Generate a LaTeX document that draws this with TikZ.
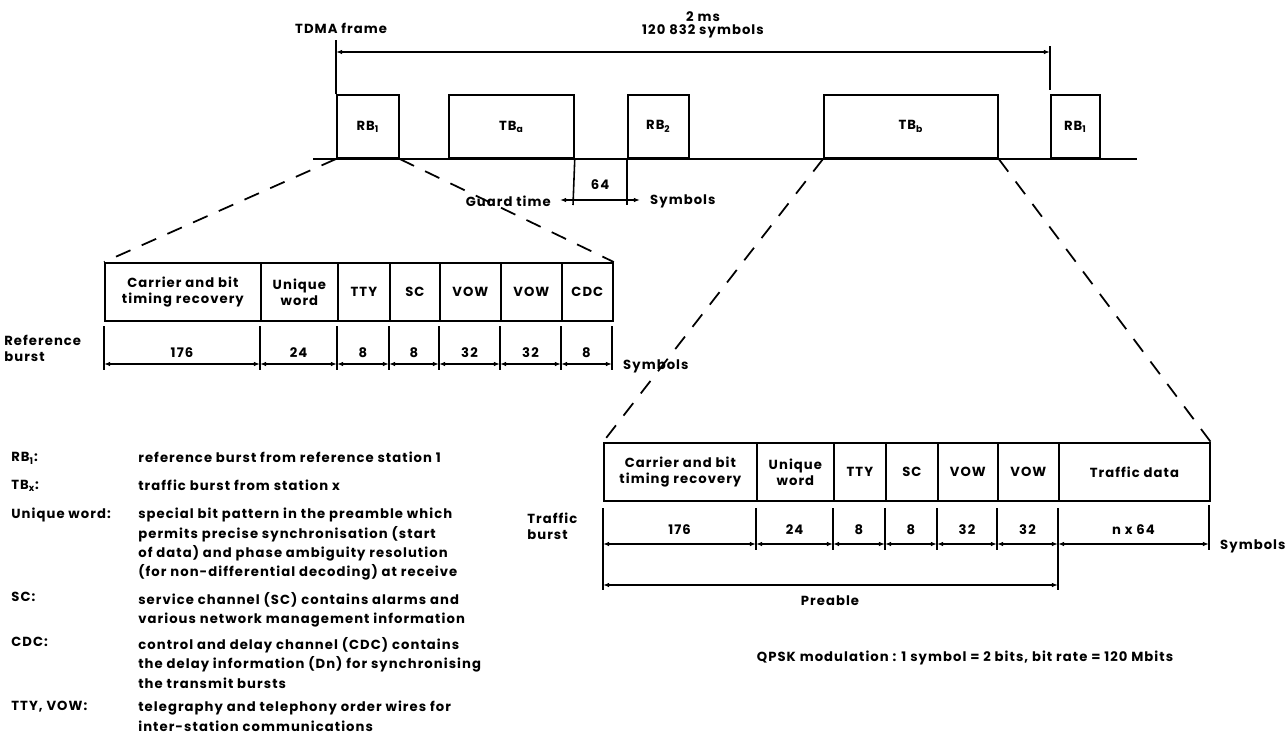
\documentclass[tikz,border=0pt]{standalone}
\usepackage{fontspec}
\setmainfont{Poppins}[LetterSpace=8]
\usepackage{tikz}
\usetikzlibrary{arrows.meta, positioning}

\begin{document}
\begin{tikzpicture}[x=0.02cm, y=-0.02cm,
  every node/.style={font=\fontsize{7.5}{10}\selectfont\bfseries},
  burst/.style={rectangle, draw, line width=1pt, minimum height=1.26cm, inner sep=0pt, anchor=south west},
  cell/.style={rectangle, draw, line width=1pt, minimum height=1.17cm, inner sep=1pt, align=center, anchor=north west, font=\fontsize{7.5}{9.5}\selectfont\bfseries},
  num/.style={inner sep=0pt},
  dim/.style={line width=0.8pt, {Latex[length=3.5pt,width=2.6pt]}-{Latex[length=3.5pt,width=2.6pt]}},
  tick/.style={line width=0.9pt},
  zoomline/.style={line width=1pt, dash pattern=on 9pt off 7pt},
  legend/.style={inner sep=0pt, anchor=north west, align=left, font=\fontsize{7.5}{11}\selectfont\bfseries}
]
\useasboundingbox (0,0) rectangle (1286,745);

% TDMA frame with the bursts
\coordinate (lineL) at (313,159);
\coordinate (lineR) at (1137,159);
\draw[line width=1pt] (lineL) -- (lineR);
\node[burst, minimum width=62*0.02cm] (rba) at (336,159) {RB\textsubscript{1}};
\node[burst, minimum width=125*0.02cm] (tba) at (448,159) {TB\textsubscript{a}};
\node[burst, minimum width=61*0.02cm] (rbb) at (627,159) {RB\textsubscript{2}};
\node[burst, minimum width=174*0.02cm] (tbb) at (823,159) {TB\textsubscript{b}};
\node[burst, minimum width=49*0.02cm] (rbc) at (1050,159) {RB\textsubscript{1}};

% frame length
\coordinate (frameL) at (336,40);
\coordinate (frameR) at (1050,46);
\coordinate (frameRb) at (1050,90);
\draw[tick] (rba.north west) -- (frameL);
\draw[tick] (frameR) -- (frameRb);
\draw[dim] (336,52) -- (1050,52);
\node[anchor=west] (tdma) at (289,28) {TDMA frame};
\node (ms) at (703,17) {2 ms};
\node (nsym) at (703,31) {120 832 symbols};

% guard time
\coordinate (guardA) at (573,205);
\coordinate (guardB) at (627,205);
\draw[tick] (tba.south east) -- (guardA);
\draw[tick] (rbb.south west) -- (guardB);
\draw[dim] (560,200) -- (640,200);
\node (gval) at (600,185) {64};
\node[anchor=east] (gtime) at (557,201) {Guard time};
\node[anchor=west] (gsym) at (644,201) {Symbols};

% reference burst
\foreach \n/\xa/\xb/\txt/\val in {1/104/260/{Carrier and bit\\timing recovery}/176, 2/260/337/{Unique\\word}/24, 3/337/389/TTY/8, 4/389/439/SC/8, 5/439/500/VOW/32, 6/500/561/VOW/32, 7/561/612/CDC/8} {
  \node[cell, minimum width=(\xb-\xa)*0.02cm] (ref\n) at (\xa,262) {\txt};
  \node[num] (refv\n) at ({(\xa+\xb)/2},353) {\val};
  \draw[tick] (\xa,326) -- (\xa,370);
  \draw[dim] (\xa,364) -- (\xb,364);
}
\draw[tick] (612,326) -- (612,370);
\node[anchor=west] (refsym) at (617,366) {Symbols};
\node[anchor=west, align=left, inner sep=0pt, font=\fontsize{7.5}{9}\selectfont\bfseries] (reflab) at (4,348) {Reference\\burst};
\draw[zoomline] (rba.south west) -- (ref1.north west);
\draw[zoomline] (rba.south east) -- (ref7.north east);

% traffic burst
\foreach \n/\xa/\xb/\txt/\val in {1/603/756/{Carrier and bit\\timing recovery}/176, 2/756/833/{Unique\\word}/24, 3/833/885/TTY/8, 4/885/937/SC/8, 5/937/997/VOW/32, 6/997/1058/VOW/32, 7/1058/1209/Traffic data/{n x 64}} {
  \node[cell, minimum width=(\xb-\xa)*0.02cm] (trf\n) at (\xa,442) {\txt};
  \node[num] (trfv\n) at ({(\xa+\xb)/2},530) {\val};
  \draw[tick] (\xa,508) -- (\xa,550);
  \draw[dim] (\xa,544) -- (\xb,544);
}
\draw[tick] (1209,505) -- (1209,550);
\draw[tick] (603,550) -- (603,590);
\draw[tick] (1058,550) -- (1058,590);
\draw[dim] (603,585) -- (1058,585);
\node (pre) at (830,601) {Preable};
\node[anchor=west] (trfsym) at (1214,546) {Symbols};
\node[anchor=west, align=left, inner sep=0pt, font=\fontsize{7.5}{9}\selectfont\bfseries] (trflab) at (527,526) {Traffic\\burst};
\draw[zoomline] (tbb.south west) -- (trf1.north west);
\draw[zoomline] (tbb.south east) -- (trf7.north east);

\node (qpsk) at (965,658) {QPSK modulation : 1 symbol = 2 bits, bit rate = 120 Mbits};

% legend
\foreach \y/\lab/\txt in {452/{RB\textsubscript{1}:}/{reference burst from reference station 1},
  480/{TB\textsubscript{x}:}/{traffic burst from station x},
  508/{Unique word:}/{special bit pattern in the preamble which\\permits precise synchronisation (start\\of data) and phase ambiguity resolution\\(for non-differential decoding) at receive},
  592/{SC:}/{service channel (SC) contains alarms and\\various network management information},
  637/{CDC:}/{control and delay channel (CDC) contains\\the delay information (Dn) for synchronising\\the transmit bursts},
  701/{TTY, VOW:}/{telegraphy and telephony order wires for\\inter-station communications}} {
  \node[legend] at (11,\y) {\lab};
  \node[legend] at (138,\y) {\txt};
}
\end{tikzpicture}
\end{document}
